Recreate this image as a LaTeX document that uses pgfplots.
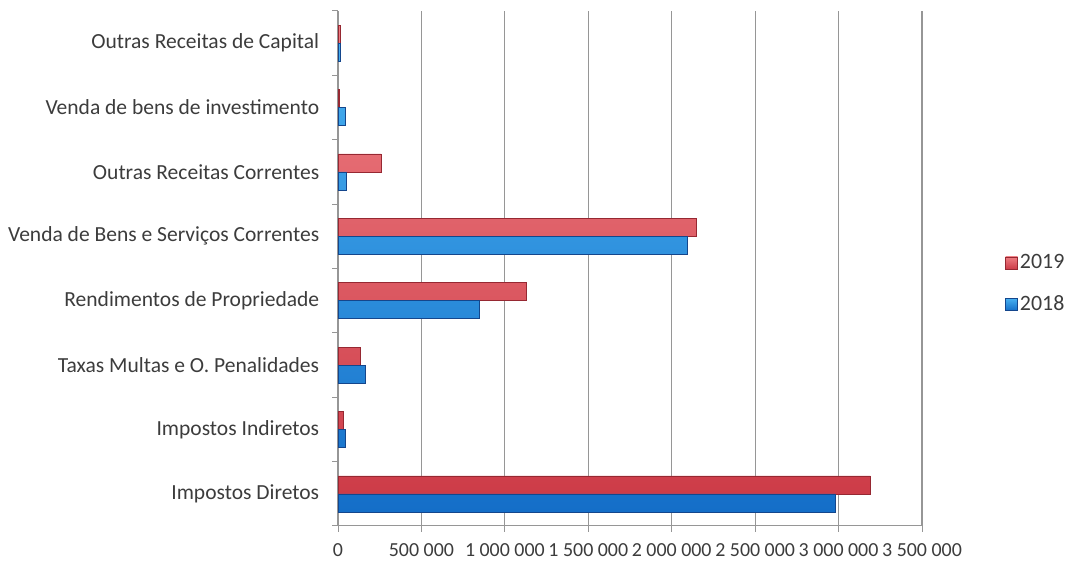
\documentclass[border=0pt]{standalone}
\usepackage{pgfplots}
\pgfplotsset{compat=1.18}
\usepackage{fontspec}
\setmainfont{Carlito}
\definecolor{rtop}{RGB}{238,125,130}
\definecolor{rbot}{RGB}{205,60,72}
\definecolor{redge}{RGB}{150,40,50}
\definecolor{btop}{RGB}{70,175,240}
\definecolor{bbot}{RGB}{20,110,200}
\definecolor{bedge}{RGB}{20,70,140}
\definecolor{gridc}{RGB}{150,150,150}
\definecolor{txt}{RGB}{60,60,60}
\pgfplotstableread{
idx y2019 y2018
0 3190000 2980000
1 30000 44000
2 135000 163000
3 1130000 844000
4 2148000 2092000
5 257000 52000
6 5000 46000
7 15000 12000
}\data
\begin{document}
\fontsize{20}{24}\selectfont
\begin{tikzpicture}[x=1bp,y=1bp]
\path[use as bounding box] (0,0) rectangle (1073,566);
\begin{axis}[
  at={(338bp,40bp)}, anchor=south west,
  scale only axis, width=584bp, height=515bp,
  xmin=0, xmax=3500000, ymin=-0.5, ymax=7.5,
  axis x line*=bottom, axis y line*=left,
  axis line style={gridc, line width=1pt, -},
  xtick={0,500000,1000000,1500000,2000000,2500000,3000000,3500000},
  xticklabels={0,500 000,1 000 000,1 500 000,2 000 000,2 500 000,3 000 000,3 500 000},
  scaled x ticks=false,
  xmajorgrids, major grid style={gridc, line width=1.1pt},
  x tick style={gridc, line width=1pt}, major tick length=6bp,
  xtick align=outside,
  ytick={0,...,7},
  yticklabels={Impostos Diretos,Impostos Indiretos,Taxas Multas e O. Penalidades,Rendimentos de Propriedade,Venda de Bens e Serviços Correntes,Outras Receitas Correntes,Venda de bens de investimento,Outras Receitas de Capital},
  y tick style={draw=none},
  minor ytick={-0.5,0.5,...,7.5},
  minor y tick style={draw=gridc, line width=1pt},
  minor tick length=6bp, ytick align=outside,
  ticklabel style={text=txt},
  yticklabel style={font=\fontsize{21.6}{26}\selectfont, xshift=-6bp},
  xticklabel style={font=\fontsize{20}{24}\selectfont, yshift=-5bp},
  /pgf/number format/assume math mode=true,
  legend style={at={(1.195,0.47)}, anchor=center, draw=none, fill=none,
    font=\fontsize{22}{26}\selectfont, text=txt, row sep=20bp, inner sep=0pt},
  legend cell align=left,
  legend image code/.code={\draw[#1] (0bp,-6bp) rectangle (12bp,6bp);},
  clip=false,
]
\addplot[xbar, bar width=18bp, bar shift=9bp, draw=redge, top color=rtop, bottom color=rbot, line width=0.6pt] table[x=y2019, y=idx] {\data};
\addlegendentry{2019}
\addplot[xbar, bar width=18bp, bar shift=-9bp, draw=bedge, top color=btop, bottom color=bbot, line width=0.6pt] table[x=y2018, y=idx] {\data};
\addlegendentry{2018}
\end{axis}
\end{tikzpicture}
\end{document}
